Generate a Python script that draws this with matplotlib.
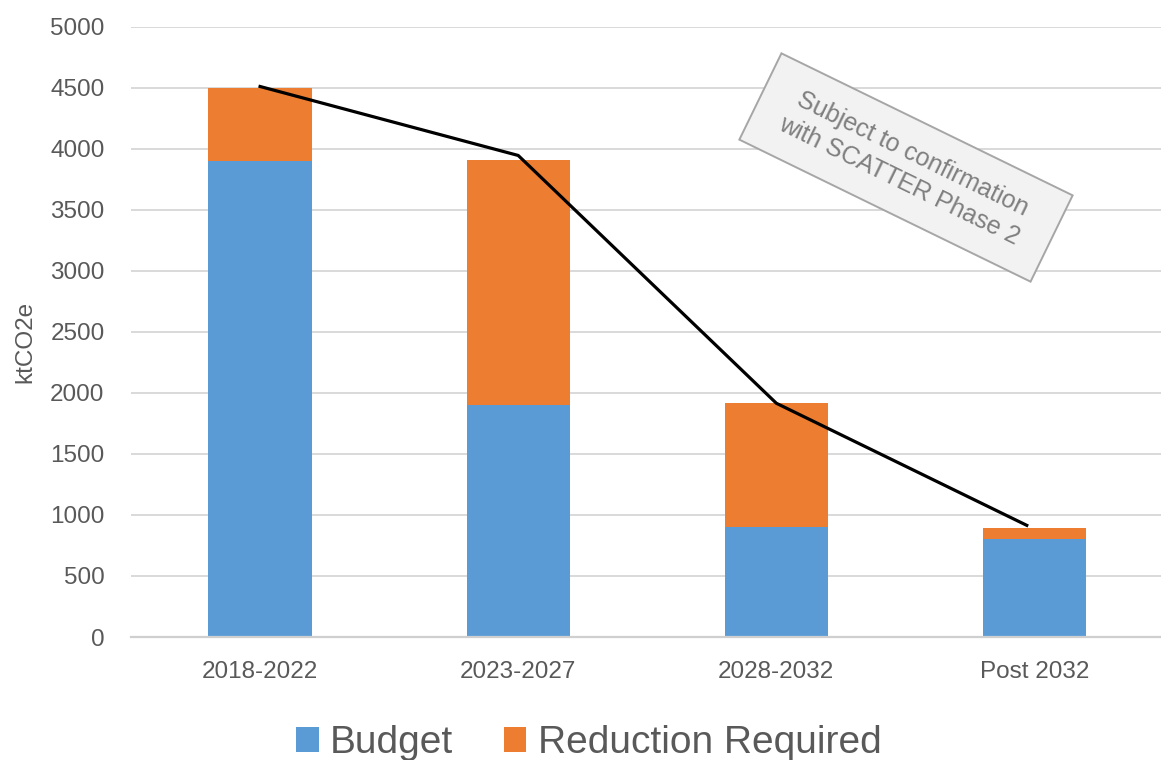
import numpy as np
import matplotlib
matplotlib.use("Agg")
import matplotlib.pyplot as plt
from matplotlib.patches import Rectangle
from matplotlib.transforms import Affine2D

# data
periods = ["2018-2022", "2023-2027", "2028-2032", "Post 2032"]
budget = [3900, 1900, 900, 800]
reduction = [600, 2010, 1020, 90]
trend_x = [0, 1, 2, 2.97]
trend_y = [4510, 3945, 1915, 915]
y_ticks = [0, 500, 1000, 1500, 2000, 2500, 3000, 3500, 4000, 4500, 5000]

blue = "#5b9bd5"
orange = "#ed7d31"
txt = "#595959"
W, H = 1161, 760

plt.rcParams["font.family"] = ["Liberation Sans", "DejaVu Sans"]

fig = plt.figure(figsize=(W / 100, H / 100), dpi=100)
ax = fig.add_axes([131 / W, 0.1618, 1 - 131 / W, 0.9649 - 0.1618])

x = np.arange(len(periods))
ax.bar(x, budget, width=0.40, color=blue, label="Budget", zorder=2)
ax.bar(x, reduction, width=0.40, bottom=budget, color=orange,
       label="Reduction Required", zorder=2)
ax.plot(trend_x, trend_y, color="black", linewidth=2.3, zorder=3)

ax.set_xlim(-0.5, 3.49)
ax.set_ylim(0, 5000)
ax.set_yticks(y_ticks)
ax.set_xticks(x)
ax.set_xticklabels(periods)
ax.tick_params(axis="both", length=0, labelsize=17.5, labelcolor=txt)
ax.tick_params(axis="y", pad=19)
ax.tick_params(axis="x", pad=17)
ax.grid(axis="y", color="#d9d9d9", linewidth=1.4, zorder=0)
ax.set_axisbelow(True)
for s in ["left", "right", "top"]:
    ax.spines[s].set_visible(False)
ax.spines["bottom"].set_color("#cfcfcf")
ax.spines["bottom"].set_linewidth(1.6)

fig.text(25 / W, 1 - 342 / H, "ktCO2e", rotation=90, ha="center",
         va="center", fontsize=17.5, color=txt)

# rotated note box (drawn in pixel space, centre at 906,167 from top)
cx, cy = 906, H - 167.5
bw, bh = 324, 96
px = Affine2D().scale(1 / W, 1 / H) + fig.transFigure
box = Rectangle((cx - bw / 2, cy - bh / 2), bw, bh, angle=-26,
                rotation_point="center", transform=px,
                facecolor="#f2f2f2", edgecolor="#a6a6a6", linewidth=1.4,
                zorder=4)
fig.add_artist(box)
fig.text(cx / W, cy / H, "Subject to confirmation\nwith SCATTER Phase 2",
         rotation=-26, rotation_mode="anchor", ha="center", va="center",
         multialignment="center", fontsize=18, color="#7f7f7f",
         linespacing=1.3, zorder=5)

fig.legend(loc="center", bbox_to_anchor=(589 / W, 0.022), ncol=2,
           frameon=False, fontsize=28, handlelength=0.57, handleheight=0.6,
           handletextpad=0.3, columnspacing=1.3, borderpad=0,
           labelcolor=txt)

fig.savefig("out.png", dpi=100)
